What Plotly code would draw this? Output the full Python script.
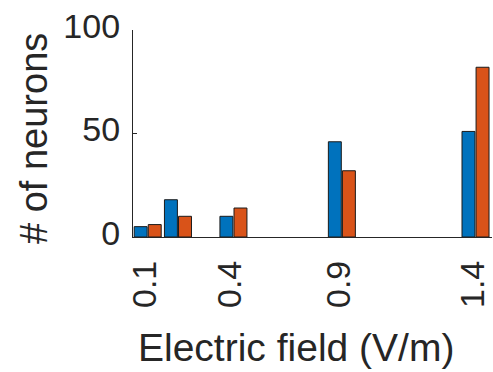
import plotly.graph_objects as go

# Data
field_pos = [0.1, 0.22, 0.44, 0.87, 1.4]          # bar group positions on the field axis
series_a = [5, 18, 10, 46, 51]                     # blue series
series_b = [6, 10, 14, 32, 82]                     # orange series
tick_vals = [0.1, 0.44, 0.87, 1.4]
tick_text = ["0.1", "0.4", "0.9", "1.4"]
y_ticks = [0, 50, 100]

FONT = "Liberation Sans, Arial, Helvetica, sans-serif"
TXT = "#262626"

fig = go.Figure()
fig.add_trace(go.Bar(x=field_pos, y=series_a, marker=dict(color="#0072BD", line=dict(color="#1a1a1a", width=1)),
                     showlegend=False))
fig.add_trace(go.Bar(x=field_pos, y=series_b, marker=dict(color="#D95319", line=dict(color="#1a1a1a", width=1)),
                     showlegend=False))

fig.update_layout(
    width=493, height=372,
    margin=dict(l=133, r=1, t=30, b=135),
    paper_bgcolor="white", plot_bgcolor="white",
    barmode="group", bargap=0.07, bargroupgap=0.08,
    font=dict(family=FONT, color=TXT),
    xaxis=dict(range=[0.0417, 1.4654], tickmode="array", tickvals=tick_vals, ticktext=tick_text,
               tickangle=-90, tickfont=dict(size=34, family=FONT, color=TXT),
               showline=True, linecolor="#262626", linewidth=1.3, ticks="", showgrid=False,
               zeroline=False, ticklabelstandoff=9, ticklabelshift=-3),
    yaxis=dict(range=[0, 100], tickvals=y_ticks, tickfont=dict(size=34, family=FONT, color=TXT),
               showline=True, linecolor="#262626", linewidth=1.3, ticks="inside", ticklen=4,
               tickcolor="#262626", showgrid=False, zeroline=False, ticklabelstandoff=5,
               ticklabelshift=-4),
    annotations=[
        dict(text="Electric field (V/m)", xref="paper", yref="paper", x=0, y=0,
             xshift=163, yshift=-110, xanchor="center", yanchor="middle", showarrow=False,
             font=dict(size=39, family=FONT, color=TXT)),
        dict(text="# of neurons", xref="paper", yref="paper", x=0, y=0,
             xshift=-99, yshift=98, xanchor="center", yanchor="middle", textangle=-90,
             showarrow=False, font=dict(size=38, family=FONT, color=TXT)),
    ],
)

fig.write_html("out.html")
